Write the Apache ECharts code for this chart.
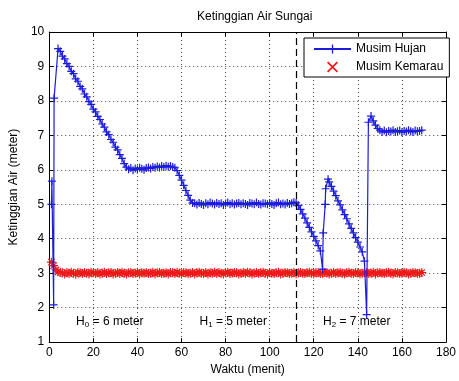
<!DOCTYPE html>
<html>
<head>
<meta charset="utf-8">
<script src="https://cdn.jsdelivr.net/npm/echarts@6/dist/echarts.min.js"></script>
<style>
  html, body { margin: 0; padding: 0; background: #fff; }
  #chart { width: 459px; height: 381px; }
</style>
</head>
<body>
<div id="chart"></div>
<script>
// [waktu (menit), ketinggian (meter)]
const musimHujan = [
  [1, 5.0], [1.2, 5.67], [2, 2.08], [2.2, 8.08], [4, 9.52],
  [5, 9.44], [6, 9.3], [7, 9.22], [8, 9.08], [9, 9.0], [10, 8.86], [11, 8.79], [12, 8.64], [13, 8.57], [14, 8.42],
  [15, 8.35], [16, 8.2], [17, 8.12], [18, 7.98], [19, 7.9], [20, 7.76], [21, 7.68], [22, 7.55], [23, 7.46], [24, 7.33],
  [25, 7.24], [26, 7.1], [27, 7.02], [28, 6.88], [29, 6.8], [30, 6.66], [31, 6.58], [32, 6.44], [33, 6.33], [34, 6.18],
  [35, 6.08], [36, 6.02], [37, 6.05], [38, 5.99], [39, 6.04], [40, 6.01], [41, 6.06], [42, 6.03], [43, 6.0], [44, 6.05],
  [45, 6.07], [46, 6.04], [47, 6.08], [48, 6.06], [49, 6.1], [50, 6.07], [51, 6.11], [52, 6.08], [53, 6.12], [54, 6.09],
  [55, 6.11], [56, 6.08], [57, 6.06], [58, 5.98], [59, 5.84], [60, 5.7], [61, 5.55], [62, 5.4], [63, 5.26], [64, 5.12],
  [65, 5.04], [66, 5.03], [67, 4.99], [68, 5.04], [69, 5.01], [70, 4.98], [71, 5.03], [72, 5.0], [73, 5.05], [74, 5.02],
  [75, 4.99], [76, 5.04], [77, 5.01], [78, 5.03], [79, 4.98], [80, 5.02], [81, 5.05], [82, 5.0], [83, 5.03], [84, 4.99],
  [85, 5.02], [86, 5.04], [87, 5.0], [88, 5.03], [89, 5.01], [90, 4.98], [91, 5.04], [92, 5.02], [93, 5.0], [94, 5.05],
  [95, 5.01], [96, 4.99], [97, 5.03], [98, 5.02], [99, 5.0], [100, 5.04], [101, 5.01], [102, 4.98], [103, 5.03], [104, 5.05],
  [105, 5.0], [106, 5.02], [107, 4.99], [108, 5.04], [109, 5.01], [110, 5.03], [111, 5.06], [112, 5.04], [113, 4.97], [114, 4.85],
  [115, 4.72], [116, 4.6], [117, 4.46], [118, 4.33], [119, 4.2], [120, 4.07], [121, 3.94], [122, 3.8], [123, 3.65], [124, 3.12],
  [124.3, 4.17], [125.2, 5.0], [125.4, 5.45], [126.5, 5.73], [127, 5.65], [128, 5.52], [129, 5.38], [130, 5.25], [131, 5.1], [132, 4.98],
  [133, 4.84], [134, 4.7], [135, 4.58], [136, 4.43], [137, 4.3], [138, 4.17], [139, 4.03], [140, 3.9], [141, 3.76], [142, 3.62],
  [143, 3.35], [144, 1.8], [144.8, 7.38], [146, 7.56], [147, 7.42], [148, 7.3], [149, 7.2], [150, 7.15], [151, 7.1], [152, 7.14],
  [153, 7.09], [154, 7.13], [155, 7.11], [156, 7.15], [157, 7.1], [158, 7.12], [159, 7.14], [160, 7.09], [161, 7.13], [162, 7.11],
  [163, 7.15], [164, 7.12], [165, 7.1], [166, 7.14], [167, 7.12], [168, 7.13], [169, 7.15]
];

const musimKemarau = [
  [1, 3.32], [2, 3.22], [3, 3.1], [4, 3.04], [5, 3.02],
  [6, 3.01], [7, 2.98], [8, 3.02], [9, 2.99], [10, 3.03], [11, 3.0], [12, 2.97], [13, 3.02], [14, 3.01], [15, 2.99],
  [16, 3.02], [17, 3.0], [18, 2.98], [19, 3.03], [20, 3.01], [21, 2.99], [22, 3.02], [23, 2.98], [24, 3.0], [25, 3.03],
  [26, 2.99], [27, 3.01], [28, 3.02], [29, 2.98], [30, 3.0], [31, 3.02], [32, 2.99], [33, 3.03], [34, 3.0], [35, 2.98],
  [36, 3.01], [37, 3.02], [38, 2.99], [39, 3.0], [40, 3.03], [41, 2.98], [42, 3.01], [43, 3.0], [44, 3.02], [45, 2.99],
  [46, 3.0], [47, 3.03], [48, 2.98], [49, 3.01], [50, 3.02], [51, 2.99], [52, 3.0], [53, 3.01], [54, 2.98], [55, 3.02],
  [56, 3.01], [57, 2.99], [58, 3.03], [59, 3.0], [60, 2.98], [61, 3.02], [62, 3.01], [63, 2.99], [64, 3.0], [65, 3.02],
  [66, 2.98], [67, 3.01], [68, 3.03], [69, 3.0], [70, 2.99], [71, 3.02], [72, 2.98], [73, 3.01], [74, 3.0], [75, 3.03],
  [76, 2.99], [77, 3.02], [78, 3.0], [79, 2.98], [80, 3.01], [81, 3.03], [82, 2.99], [83, 3.0], [84, 3.02], [85, 3.01],
  [86, 2.98], [87, 3.0], [88, 3.02], [89, 2.99], [90, 3.03], [91, 3.01], [92, 2.98], [93, 3.0], [94, 3.02], [95, 2.99],
  [96, 3.01], [97, 3.03], [98, 3.0], [99, 2.98], [100, 3.02], [101, 3.0], [102, 2.99], [103, 3.01], [104, 3.03], [105, 2.98],
  [106, 3.0], [107, 3.02], [108, 3.01], [109, 2.99], [110, 3.0], [111, 3.03], [112, 2.98], [113, 3.01], [114, 3.02], [115, 3.0],
  [116, 2.99], [117, 3.01], [118, 3.03], [119, 3.0], [120, 2.98], [121, 3.02], [122, 3.01], [123, 2.99], [124, 3.0], [125, 3.02],
  [126, 3.01], [127, 2.98], [128, 3.0], [129, 3.03], [130, 2.99], [131, 3.01], [132, 3.02], [133, 3.0], [134, 2.98], [135, 3.01],
  [136, 3.03], [137, 3.0], [138, 2.99], [139, 3.02], [140, 3.01], [141, 2.98], [142, 3.0], [143, 3.02], [144, 3.01], [145, 2.99],
  [146, 3.0], [147, 3.03], [148, 2.98], [149, 3.01], [150, 3.02], [151, 3.0], [152, 2.99], [153, 3.01], [154, 3.03], [155, 3.0],
  [156, 2.98], [157, 3.02], [158, 3.01], [159, 2.99], [160, 3.0], [161, 3.03], [162, 3.01], [163, 2.98], [164, 3.0], [165, 3.02],
  [166, 3.01], [167, 2.99], [168, 3.0], [169, 3.02]
];

const batasWaktu = [112];
const keteranganTeks = [['0', ' = 6 meter'], ['1', ' = 5 meter'], ['2', ' = 7 meter']];
const keteranganTitik = [[27.5, 1.6], [83.5, 1.6], [139.5, 1.6]];

const font = 'Liberation Sans, Arial, sans-serif';
const biru = '#1c1cdc';
const merah = '#ee1a1a';
const plus = 'path://M-0.6,-4H0.6V4H-0.6ZM-4,-0.6H4V0.6H-4Z';
const bintang = 'path://M-0.5,-4H0.5V4H-0.5ZM-4,-0.5H4V0.5H-4ZM-3.2,-2.5L-2.5,-3.2L3.2,2.5L2.5,3.2ZM-3.2,2.5L2.5,-3.2L3.2,-2.5L-2.5,3.2Z';
const silang = 'path://M-3.2,-2.5L-2.5,-3.2L3.2,2.5L2.5,3.2ZM-3.2,2.5L2.5,-3.2L3.2,-2.5L-2.5,3.2Z';

const chart = echarts.init(document.getElementById('chart'), null, { renderer: 'canvas' });

const gridLine = { show: true, lineStyle: { color: '#444', width: 1, type: [1, 3] } };
const axisLine = { show: true, onZero: false, lineStyle: { color: '#000', width: 1 } };
const tickIn = { show: true, inside: true, length: 4, lineStyle: { color: '#000' } };

chart.setOption({
  animation: false,
  backgroundColor: '#fff',
  textStyle: { fontFamily: font },
  title: {
    text: 'Ketinggian Air Sungai',
    left: 192,
    top: 6,
    textStyle: { fontFamily: font, fontSize: 12, fontWeight: 'normal', color: '#000' }
  },
  grid: { left: 48, right: 6, top: 32, bottom: 31 },
  legend: {
    orient: 'vertical',
    left: 304,
    top: 38,
    backgroundColor: '#fff',
    borderColor: '#000',
    borderWidth: 1,
    borderRadius: 0,
    padding: [5, 6, 4, 9],
    itemWidth: 37,
    itemHeight: 11,
    itemGap: 6,
    textStyle: { fontFamily: font, fontSize: 12, color: '#000' },
    data: [{ name: 'Musim Hujan' }, { name: 'Musim Kemarau', icon: silang, itemStyle: { color: merah } }]
  },
  xAxis: [{
    type: 'value',
    min: 0,
    max: 180,
    interval: 20,
    name: 'Waktu (menit)',
    nameLocation: 'middle',
    nameGap: 21,
    nameTextStyle: { fontFamily: font, fontSize: 12, color: '#000' },
    axisLine: axisLine,
    axisTick: tickIn,
    axisLabel: { color: '#000', fontSize: 12, margin: 5, showMaxLabel: true, showMinLabel: true },
    splitLine: gridLine
  }, {
    type: 'value',
    position: 'top',
    min: 0,
    max: 180,
    interval: 20,
    axisLine: axisLine,
    axisTick: tickIn,
    axisLabel: { show: false },
    splitLine: { show: false }
  }],
  yAxis: [{
    type: 'value',
    min: 1,
    max: 10,
    interval: 1,
    name: 'Ketinggian Air (meter)',
    nameLocation: 'middle',
    nameGap: 19,
    nameTextStyle: { fontFamily: font, fontSize: 12, color: '#000' },
    axisLine: axisLine,
    axisTick: tickIn,
    axisLabel: { color: '#000', fontSize: 12, margin: 5, showMaxLabel: true, showMinLabel: true },
    splitLine: gridLine
  }, {
    type: 'value',
    position: 'right',
    min: 1,
    max: 10,
    interval: 1,
    axisLine: axisLine,
    axisTick: tickIn,
    axisLabel: { show: false },
    splitLine: { show: false }
  }],
  series: [{
    name: 'Musim Hujan',
    type: 'line',
    data: musimHujan,
    showAllSymbol: true,
    symbol: plus,
    symbolSize: 8,
    lineStyle: { color: biru, width: 1.2 },
    itemStyle: { color: biru },
    markLine: {
      silent: true,
      symbol: ['none', 'none'],
      label: { show: false },
      lineStyle: { color: '#000', width: 1.2, type: [7, 4] },
      data: batasWaktu.map(t => ({ xAxis: t }))
    },
    markPoint: {
      silent: true,
      symbolSize: 0,
      data: keteranganTitik.map((p, i) => ({
        coord: p,
        label: {
          show: true,
          position: 'inside',
          formatter: '{h|H}{s|' + keteranganTeks[i][0] + '}{h|' + keteranganTeks[i][1] + '}',
          rich: {
            h: { fontFamily: font, fontSize: 12, color: '#000' },
            s: { fontFamily: font, fontSize: 8, color: '#000', verticalAlign: 'bottom', padding: [6, 0, 0, 0] }
          }
        }
      }))
    },
    z: 3
  }, {
    name: 'Musim Kemarau',
    type: 'scatter',
    data: musimKemarau,
    symbol: bintang,
    symbolSize: 9,
    itemStyle: { color: merah, opacity: 1 },
    z: 2
  }]
});
</script>
</body>
</html>
